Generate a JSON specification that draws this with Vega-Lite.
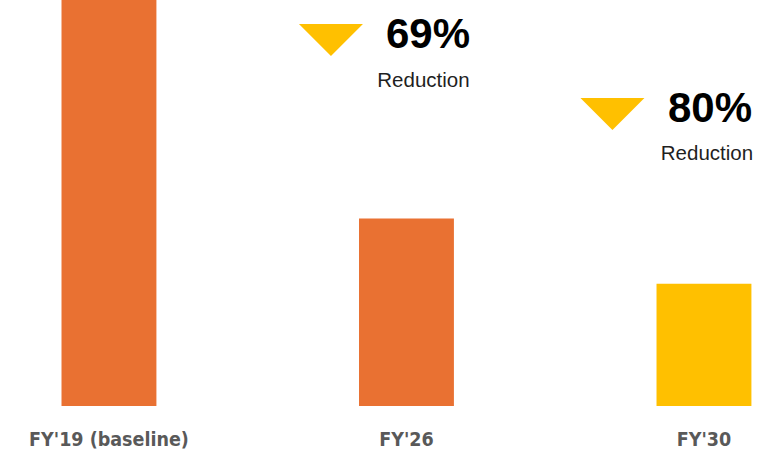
{
  "$schema": "https://vega.github.io/schema/vega-lite/v6.json",
  "width": 770,
  "height": 406,
  "autosize": "none",
  "padding": {"left": 0, "top": 0, "right": 0, "bottom": 46},
  "background": "white",
  "config": {"view": {"stroke": null}},
  "data": {
    "values": [
      {"year": "FY'19 (baseline)", "value": 100, "kind": "actual", "reduction": null},
      {"year": "FY'26", "value": 30.8, "kind": "actual", "reduction": "69%"},
      {"year": "FY'30", "value": 20.1, "kind": "target", "reduction": "80%"}
    ]
  },
  "encoding": {
    "x": {
      "field": "year",
      "type": "nominal",
      "sort": null,
      "scale": {"paddingInner": 0.681, "paddingOuter": 0.1346, "align": 0.768},
      "axis": {
        "title": null,
        "domain": false,
        "ticks": false,
        "grid": false,
        "labelAngle": 0,
        "labelFont": "DejaVu Sans Condensed, Liberation Sans",
        "labelFontWeight": "bold",
        "labelFontSize": 19.5,
        "labelColor": "#595959",
        "labelBaseline": "alphabetic",
        "labelPadding": 39
      }
    },
    "y": {
      "field": "value",
      "type": "quantitative",
      "scale": {"domain": [0, 66.7], "nice": false, "zero": true},
      "axis": null
    }
  },
  "layer": [
    {
      "mark": {"type": "bar", "clip": true},
      "encoding": {
        "color": {
          "field": "kind",
          "type": "nominal",
          "scale": {"domain": ["actual", "target"], "range": ["#E97132", "#FFC000"]},
          "legend": null
        }
      }
    },
    {
      "transform": [{"filter": {"field": "year", "equal": "FY'26"}}],
      "layer": [
        {
          "mark": {"type": "point", "shape": "M-1,-0.5L1,-0.5L0,0.5Z", "filled": true, "opacity": 1, "color": "#FFC000", "size": 4096, "strokeWidth": 0, "xOffset": -75.5, "yOffset": -178.5}
        },
        {
          "mark": {"type": "text", "font": "Liberation Sans", "fontWeight": "bold", "fontSize": 42, "color": "#000000", "align": "center", "baseline": "alphabetic", "dx": 21.5, "dy": -170.5},
          "encoding": {"text": {"field": "reduction"}}
        },
        {
          "mark": {"type": "text", "text": "Reduction", "font": "Liberation Sans", "fontSize": 20.5, "color": "#1f1f1f", "align": "center", "baseline": "alphabetic", "dx": 17, "dy": -131.5}
        }
      ]
    },
    {
      "transform": [{"filter": {"field": "year", "equal": "FY'30"}}],
      "layer": [
        {
          "mark": {"type": "point", "shape": "M-1,-0.5L1,-0.5L0,0.5Z", "filled": true, "opacity": 1, "color": "#FFC000", "size": 4096, "strokeWidth": 0, "xOffset": -91.5, "yOffset": -169.7}
        },
        {
          "mark": {"type": "text", "font": "Liberation Sans", "fontWeight": "bold", "fontSize": 42, "color": "#000000", "align": "center", "baseline": "alphabetic", "dx": 6, "dy": -161.7},
          "encoding": {"text": {"field": "reduction"}}
        },
        {
          "mark": {"type": "text", "text": "Reduction", "font": "Liberation Sans", "fontSize": 20.5, "color": "#1f1f1f", "align": "center", "baseline": "alphabetic", "dx": 3, "dy": -123.7}
        }
      ]
    }
  ]
}
